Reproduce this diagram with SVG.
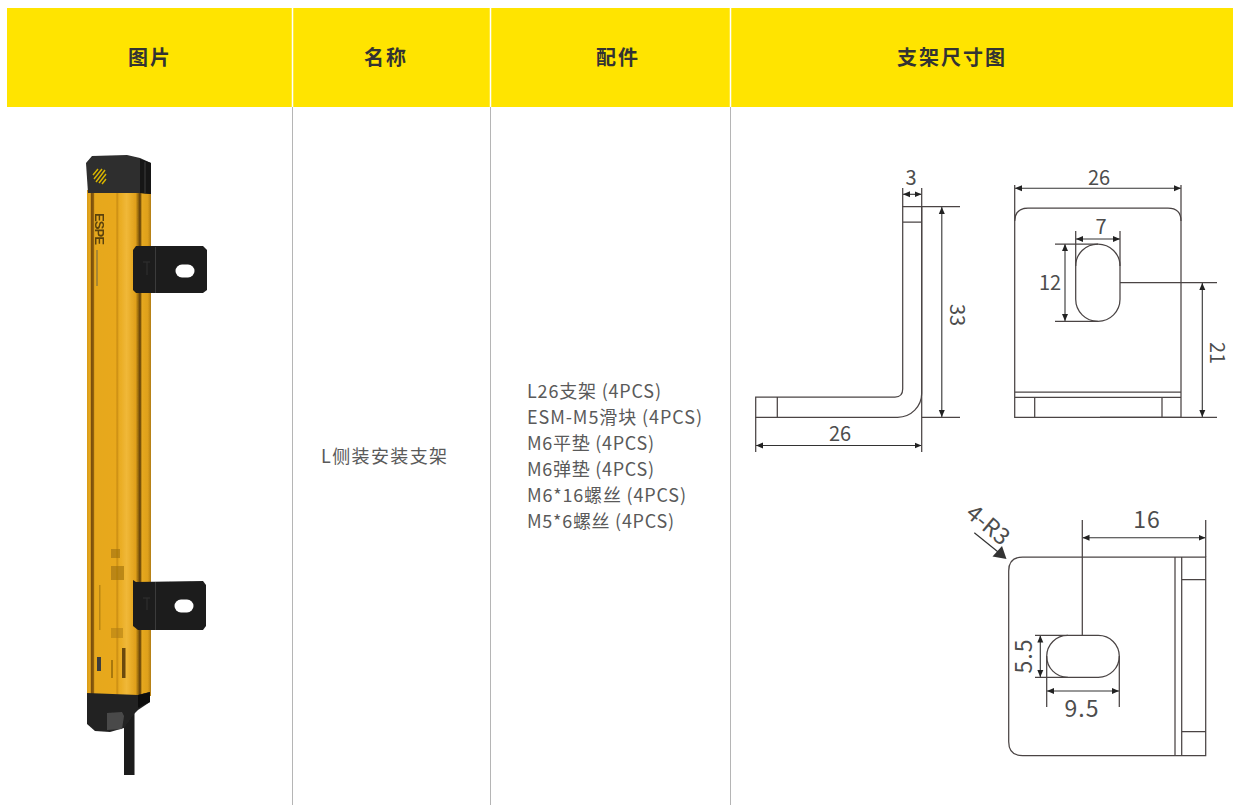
<svg xmlns="http://www.w3.org/2000/svg" width="1233" height="805" viewBox="0 0 1233 805">
<style>
.hd{font:700 20px "Noto Sans CJK SC","Noto Sans",sans-serif;fill:#333;letter-spacing:2px;text-anchor:middle}
.tx{font:400 18px "Noto Sans CJK SC","Noto Sans",sans-serif;fill:#5a5a5a}
.dm{font:400 20px "Noto Sans CJK SC","Noto Sans",sans-serif;fill:#4d4d4d;text-anchor:middle}
.big{font-size:23px;letter-spacing:1px}
.ln{fill:none;stroke:#4a4444;stroke-width:1.25}
.dim{fill:none;stroke:#333;stroke-width:1.1;marker-start:url(#a);marker-end:url(#a)}
.grid{stroke:#b5b5b5;stroke-width:1}
</style>
<defs>
<marker id="a" markerUnits="userSpaceOnUse" markerWidth="8" markerHeight="8" refX="7" refY="4" orient="auto-start-reverse"><path d="M0 1 7 4 0 7Z" fill="#222"/></marker>
<linearGradient id="body" x1="0" x2="1" y1="0" y2="0">
<stop offset="0" stop-color="#d89a16"/><stop offset=".05" stop-color="#e8aa20"/><stop offset=".07" stop-color="#7a5008"/><stop offset=".1" stop-color="#8a5c08"/><stop offset=".12" stop-color="#e6a81e"/><stop offset=".45" stop-color="#e8a81e"/><stop offset=".47" stop-color="#c98c14"/><stop offset=".5" stop-color="#e8aa20"/><stop offset=".62" stop-color="#f0b838"/><stop offset=".76" stop-color="#e0a01a"/><stop offset=".8" stop-color="#986a0e"/><stop offset=".83" stop-color="#5c3c06"/><stop offset=".86" stop-color="#e6a820"/><stop offset=".95" stop-color="#dea01c"/><stop offset="1" stop-color="#b07c10"/>
</linearGradient>
<filter id="soft" x="-10%" y="-10%" width="120%" height="120%"><feGaussianBlur stdDeviation=".6"/></filter>
</defs>
<g id="header">
<rect x="7" y="8" width="1226" height="99" fill="#ffe400"/>
<path d="M292.500 8V107M490.500 8V107M730.500 8V107" stroke="#fff" stroke-width="1.500"/>
<text class="hd" x="150" y="65">图片</text>
<text class="hd" x="386" y="65">名称</text>
<text class="hd" x="618" y="65">配件</text>
<text class="hd" x="952" y="65">支架尺寸图</text>
</g>
<g id="grid"><path class="grid" d="M292.500 107V805M490.500 107V805M730.500 107V805"/></g>
<g id="photo" filter="url(#soft)">
<rect x="124" y="705" width="10.500" height="70" fill="#1c1c1c"/>
<rect x="87" y="190" width="64" height="506" fill="url(#body)"/>
<path d="M87 693 138 695 150 692V702L138 710 134 714 124 728 110 732 95 731 87 724Z" fill="#232323"/>
<path d="M138 695 150 692V702L138 708Z" fill="#111"/>
<path d="M107 713 122 712 124 716 122 729 107 730Z" fill="#4a4a4a"/>
<path d="M86 163 92 156 127 155 140 158 151 163V194L140 193 88 193Z" fill="#2d2d2d"/>
<path d="M140 159 151 163V194L140 193Z" fill="#131313"/>
<path d="M145 162V193" stroke="#444" stroke-width="1"/>
<g stroke="#d8b400" stroke-width="1.500"><path d="M94 179 102 169M96 182 105 170M99 183 106 174M102 184 106 179M93 175 98 169"/></g>
<path d="M133 250 136 246 203 246 207 250V290L203 293 136 293 133 290Z" fill="#1d1d1d"/>
<path d="M133 580 136 582 203 581 206 585V626L203 630 138 630 133 626Z" fill="#1d1d1d"/>
<path d="M155.500 247V293M155.500 582V630" stroke="#3a3a3a"/>
<path d="M143 262H150M147 262V275M143 598H150M147 598V610" stroke="#303030"/>
<rect x="175.500" y="264.500" width="19" height="13" rx="6.500" fill="#fff"/>
<rect x="174.500" y="599.500" width="19" height="13" rx="6.500" fill="#fff"/>
<g fill="#a8780f" opacity=".7"><rect x="111" y="549" width="9" height="9"/><rect x="111" y="566" width="13" height="14"/><rect x="99" y="585" width="1.500" height="45"/><rect x="111" y="628" width="12" height="10" opacity=".7"/></g>
<rect x="122" y="648" width="3.500" height="30" fill="#6b4a0c"/>
<rect x="111" y="660" width="2" height="18" fill="#a8780f"/>
<rect x="97" y="657" width="4" height="14" fill="#3d3d3d"/>
<rect x="96" y="250" width="2" height="36" fill="#a88630"/>
<text transform="translate(95 213) rotate(90)" font-family="'Liberation Sans',sans-serif" font-weight="700" font-size="13" textLength="32" fill="#5a4208">ESPE</text>
</g>
<g id="name"><text class="tx" x="321" y="463" textLength="126">L侧装安装支架</text></g>
<g id="parts">
<text class="tx" x="527" y="398" textLength="134">L26支架 (4PCS)</text>
<text class="tx" x="527" y="424" textLength="175">ESM-M5滑块 (4PCS)</text>
<text class="tx" x="527" y="450" textLength="127">M6平垫 (4PCS)</text>
<text class="tx" x="527" y="476" textLength="127">M6弹垫 (4PCS)</text>
<text class="tx" x="527" y="502" textLength="159">M6*16螺丝 (4PCS)</text>
<text class="tx" x="527" y="528" textLength="147">M5*6螺丝 (4PCS)</text>
</g>
<g id="side-view">
<path class="ln" d="M902.700 206.700H921.700V393A24 24 0 0 1 897.700 417.300H755.700V397H895Q902.700 397 902.700 389ZM902.700 222H921.700M777.300 397V417.300"/>
<text class="dm" x="911" y="185">3</text>
<text class="dm" x="840" y="441">26</text>
<text class="dm" transform="translate(950 315) rotate(90)">33</text>
</g>
<g id="front-view">
<path class="ln" d="M1014.700 221Q1015 208 1028 208H1168Q1181 208 1181 221V417.300H1014.700ZM1014.700 392H1181M1014.700 397.300H1181M1034.700 397.300V417.300M1162 397.300V417.300"/>
<rect class="ln" x="1075.700" y="244" width="44.300" height="77.300" rx="22"/>
<text class="dm" x="1099" y="185">26</text>
<text class="dm" x="1101" y="234">7</text>
<text class="dm" x="1050" y="290">12</text>
<text class="dm" transform="translate(1210 353) rotate(90)">21</text>
</g>
<g id="top-view">
<path class="ln" d="M1022.700 557H1205.700V755.700H1022.700Q1008.700 755.700 1008.700 741.700V571Q1008.700 557 1022.700 557ZM1175 557V755.700M1181.700 557V755.700M1181.700 579.700H1205.700M1181.700 731.700H1205.700"/>
<rect class="ln" x="1046.700" y="635.300" width="72.600" height="42" rx="21"/>
<text class="dm big" x="1147" y="528">16</text>
<text class="dm big" x="1082" y="717">9.5</text>
<text class="dm big" transform="translate(1032 656) rotate(-90)">5.5</text>
<text class="dm" transform="translate(983 531) rotate(40)" style="font-size:23px">4-R3</text>
</g>
<g id="connectors">
<path class="dim" d="M903 194.300H921.500"/>
<path class="dim" d="M756 445.500H921.500"/>
<path class="dim" d="M941.800 207V417"/>
<path class="dim" d="M1015 188.300H1181"/>
<path class="dim" d="M1076 239H1120"/>
<path class="dim" d="M1065 244V321"/>
<path class="dim" d="M1202.300 283V417"/>
<path class="dim" d="M1082.500 537.700H1205.500"/>
<path class="dim" d="M1040.300 635.500V677"/>
<path class="dim" d="M1047 691H1119"/>
<path class="ln" d="M902.700 188V207M921.700 188V452M921.700 206.700H960M921.700 417.300H960M755.700 417V452"/>
<path class="ln" d="M1014.700 185V221M1181 185V221M1075.700 231V266M1120 231V266M1055 244H1098M1055 321.300H1098M1120 282.700H1217M1100 417.300H1217"/>
<path class="ln" d="M1082.300 520V635.300M1205.700 520V557M1035 635.300H1068M1035 677.300H1068M1046.700 656V707M1119.300 656V707"/>
<path d="M974.300 532.700 1000 553.500" stroke="#333" stroke-width="1.200"/>
<path d="M1006.500 559 992.500 556.500 1002 546Z" fill="#333"/>
</g>
</svg>
